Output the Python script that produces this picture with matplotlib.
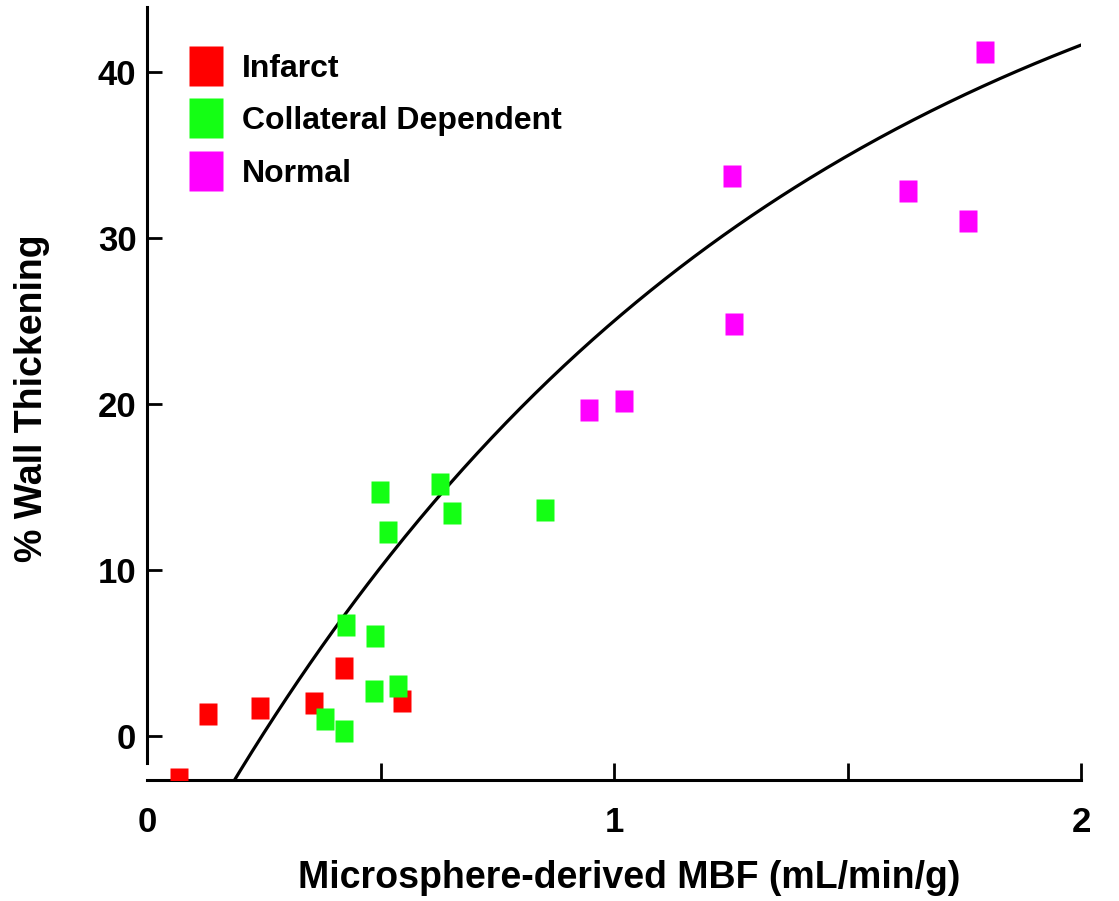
import numpy as np
import matplotlib.pyplot as plt
from matplotlib.lines import Line2D

plt.rcParams['font.family'] = ['Liberation Sans', 'DejaVu Sans']
plt.rcParams['font.weight'] = 'bold'

# Microsphere-derived MBF (mL/min/g) vs % wall thickening
infarct_x = [0.067, 0.130, 0.242, 0.357, 0.421, 0.545]
infarct_y = [-2.6, 1.3, 1.7, 2.0, 4.1, 2.1]

collat_x = [0.380, 0.421, 0.425, 0.485, 0.487, 0.537, 0.499, 0.515, 0.627, 0.652, 0.852]
collat_y = [1.0, 0.3, 6.7, 2.7, 6.0, 3.0, 14.7, 12.3, 15.2, 13.4, 13.6]

normal_x = [0.947, 1.021, 1.252, 1.257, 1.630, 1.758, 1.795]
normal_y = [19.6, 20.2, 33.7, 24.8, 32.8, 31.0, 41.2]

# fitted curve y = A - B*exp(-k*x)
fit_A, fit_B, fit_k = 55.15, 67.1, 0.80

red = '#ff0000'
green = '#14ff14'
magenta = '#ff00ff'

# tall rectangle marker
rect = [(-0.41, -0.5), (0.41, -0.5), (0.41, 0.5), (-0.41, 0.5), (-0.41, -0.5)]

fig = plt.figure(figsize=(11.19, 9.01), dpi=100)
ax = fig.add_axes([0.1318, 0.1343, 0.8342, 0.858])

xs = np.linspace(0.15, 2.0, 300)
ax.plot(xs, fit_A - fit_B * np.exp(-fit_k * xs), color='black', lw=2.3, zorder=2)

ax.plot(infarct_x, infarct_y, ls='none', marker=rect, ms=16, color=red, mec='none', zorder=3)
ax.plot(collat_x, collat_y, ls='none', marker=rect, ms=16, color=green, mec='none', zorder=3)
ax.plot(normal_x, normal_y, ls='none', marker=rect, ms=16, color=magenta, mec='none', zorder=3)

ax.set_xlim(0, 2)
ax.set_ylim(-2.65, 43.9)

for s in ['top', 'right']:
    ax.spines[s].set_visible(False)
ax.spines['left'].set_bounds(-1.6, 43.9)
ax.spines['left'].set_linewidth(2.2)
ax.spines['bottom'].set_linewidth(2.2)

ax.set_xticks([0, 1, 2])
ax.set_xticklabels(['0', '1', '2'])
ax.set_xticks([0.5, 1.5], minor=True)
ax.set_yticks([0, 10, 20, 30, 40])
ax.tick_params(axis='x', which='both', direction='in', length=12, width=2, pad=19, labelsize=25)
ax.tick_params(axis='y', direction='in', length=11, width=2, pad=8, labelsize=25)
ax.xaxis.get_major_ticks()[0].tick1line.set_visible(False)

ax.set_xlabel('Microsphere-derived MBF (mL/min/g)', fontsize=27, fontweight='bold')
ax.set_ylabel('% Wall Thickening', fontsize=27, fontweight='bold')
ax.xaxis.set_label_coords(0.516, -0.103)
ax.yaxis.set_label_coords(-0.104, 0.494)

handles = [
    Line2D([], [], ls='none', marker=rect, ms=29, color=red, mec='none'),
    Line2D([], [], ls='none', marker=rect, ms=29, color=green, mec='none'),
    Line2D([], [], ls='none', marker=rect, ms=29, color=magenta, mec='none'),
]
ax.legend(handles, ['Infarct', 'Collateral Dependent', 'Normal'],
          loc='upper left', bbox_to_anchor=(0.0455, 0.939), frameon=False,
          fontsize=23, handlelength=1.0, handletextpad=0.63,
          labelspacing=0.70, borderpad=0, borderaxespad=0)

fig.savefig('out.png', dpi=100)
